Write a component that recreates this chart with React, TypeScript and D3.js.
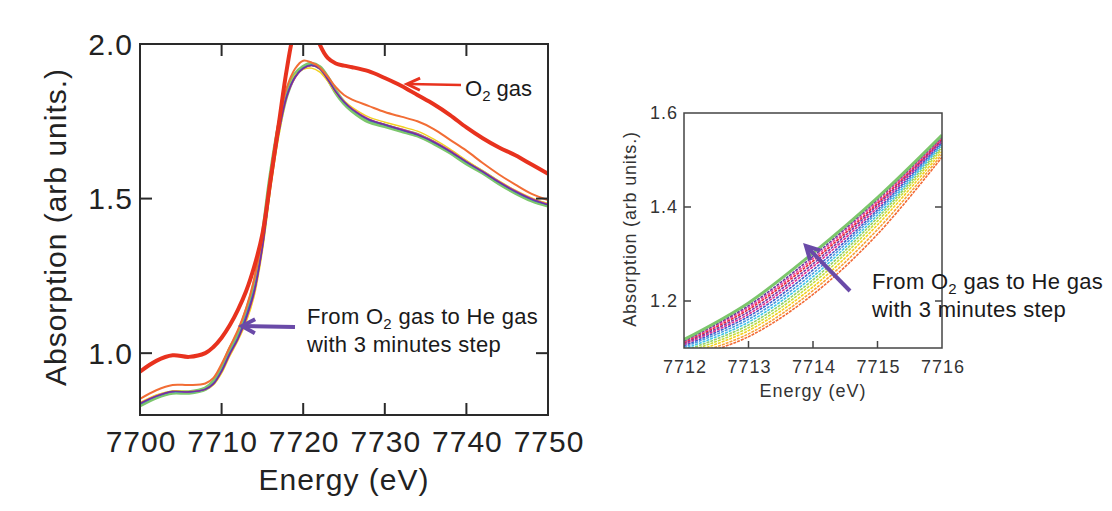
import React from "react";
import * as d3 from "d3";

// ---------- Left panel data ----------
const energyL = [7700, 7702, 7704, 7706, 7708, 7709, 7710, 7711, 7712, 7713, 7714, 7715, 7716, 7717, 7718, 7719, 7720, 7721, 7722, 7723, 7724, 7725, 7726, 7728, 7730, 7732, 7734, 7736, 7738, 7740, 7742, 7744, 7746, 7748, 7750];

const o2Red = [0.94, 0.975, 0.993, 0.988, 1.0, 1.02, 1.05, 1.09, 1.14, 1.2, 1.28, 1.385, 1.56, 1.74, 1.92, 2.05, 2.1, 2.08, 2.0, 1.955, 1.937, 1.93, 1.925, 1.912, 1.89, 1.865, 1.835, 1.805, 1.77, 1.73, 1.695, 1.665, 1.64, 1.61, 1.58];
const step1Orange = [0.852, 0.88, 0.897, 0.897, 0.902, 0.92, 0.965, 1.02, 1.075, 1.145, 1.24, 1.38, 1.58, 1.75, 1.86, 1.92, 1.946, 1.94, 1.925, 1.895, 1.86, 1.835, 1.82, 1.8, 1.78, 1.765, 1.75, 1.725, 1.69, 1.655, 1.615, 1.578, 1.545, 1.515, 1.495];
const heGreen = [0.832, 0.858, 0.873, 0.873, 0.885, 0.907, 0.95, 1.01, 1.06, 1.13, 1.22, 1.37, 1.57, 1.73, 1.84, 1.9, 1.925, 1.935, 1.925, 1.89, 1.845, 1.81, 1.785, 1.75, 1.735, 1.72, 1.705, 1.68, 1.65, 1.615, 1.585, 1.55, 1.52, 1.495, 1.478];
const stepBlue = [0.835, 0.86, 0.875, 0.874, 0.884, 0.903, 0.944, 1.0, 1.05, 1.12, 1.205, 1.35, 1.55, 1.72, 1.835, 1.895, 1.922, 1.932, 1.923, 1.888, 1.845, 1.812, 1.788, 1.755, 1.738, 1.722, 1.706, 1.682, 1.652, 1.618, 1.586, 1.552, 1.522, 1.497, 1.48];
const stepCyan = [0.836, 0.861, 0.875, 0.874, 0.883, 0.901, 0.942, 0.998, 1.048, 1.115, 1.2, 1.345, 1.545, 1.715, 1.832, 1.893, 1.921, 1.931, 1.921, 1.887, 1.846, 1.813, 1.789, 1.757, 1.74, 1.724, 1.708, 1.684, 1.654, 1.619, 1.587, 1.554, 1.524, 1.499, 1.481];
const stepPurple = [0.837, 0.861, 0.876, 0.875, 0.883, 0.9, 0.941, 0.997, 1.046, 1.112, 1.198, 1.342, 1.542, 1.712, 1.831, 1.892, 1.921, 1.931, 1.921, 1.886, 1.845, 1.813, 1.789, 1.756, 1.739, 1.723, 1.707, 1.683, 1.653, 1.619, 1.587, 1.553, 1.523, 1.498, 1.48];
const stepMagenta = [0.838, 0.862, 0.876, 0.875, 0.883, 0.9, 0.94, 0.995, 1.045, 1.11, 1.195, 1.34, 1.54, 1.71, 1.83, 1.89, 1.92, 1.93, 1.92, 1.885, 1.845, 1.814, 1.79, 1.758, 1.74, 1.725, 1.709, 1.685, 1.655, 1.62, 1.588, 1.555, 1.525, 1.5, 1.482];
const stepYellow = [0.84, 0.865, 0.878, 0.876, 0.882, 0.897, 0.935, 0.99, 1.04, 1.1, 1.185, 1.33, 1.53, 1.7, 1.83, 1.9, 1.918, 1.922, 1.91, 1.88, 1.842, 1.816, 1.795, 1.764, 1.747, 1.733, 1.718, 1.692, 1.66, 1.624, 1.59, 1.557, 1.527, 1.502, 1.484];

const xTicksL = [7700, 7710, 7720, 7730, 7740, 7750];
const yTicksL = [1.0, 1.5, 2.0];

// ---------- Right panel (zoom) data ----------
const energyR = [7712, 7713, 7714, 7715, 7716];
const zoomSeries: number[][] = [
  [1.075, 1.124, 1.214, 1.342, 1.506],
  [1.08, 1.13, 1.222, 1.352, 1.512],
  [1.085, 1.137, 1.23, 1.362, 1.518],
  [1.09, 1.143, 1.238, 1.37, 1.524],
  [1.094, 1.149, 1.245, 1.377, 1.528],
  [1.098, 1.155, 1.252, 1.383, 1.532],
  [1.102, 1.161, 1.259, 1.389, 1.535],
  [1.105, 1.167, 1.266, 1.394, 1.538],
  [1.108, 1.172, 1.273, 1.399, 1.541],
  [1.11, 1.177, 1.279, 1.404, 1.543],
  [1.112, 1.182, 1.285, 1.408, 1.545],
  [1.114, 1.186, 1.29, 1.412, 1.547],
  [1.115, 1.19, 1.295, 1.416, 1.549],
  [1.118, 1.196, 1.302, 1.42, 1.553],
];
const zoomColors = ["#f26a35", "#f7a23a", "#f2d021", "#c5dd3a", "#8fd06b", "#3fc5e6", "#4c9be0", "#3f5bcc", "#e0308f", "#7a3aa8", "#e8283a", "#f0489a", "#6a36a0", "#7cc66c"];
const xTicksR = [7712, 7713, 7714, 7715, 7716];
const yTicksR = [1.2, 1.4, 1.6];

const FONT = "'Liberation Sans', Arial, sans-serif";

function arrowHead(tipX: number, tipY: number, fromX: number, fromY: number, len: number, half: number) {
  const a = Math.atan2(tipY - fromY, tipX - fromX);
  const bx = tipX - len * Math.cos(a);
  const by = tipY - len * Math.sin(a);
  const px = -Math.sin(a), py = Math.cos(a);
  return `M${bx + px * half},${by + py * half} L${tipX},${tipY} L${bx - px * half},${by - py * half}`;
}

export default function App() {
  const xL = d3.scaleLinear().domain([7700, 7750]).range([140, 548]);
  const yL = d3.scaleLinear().domain([0.8, 2.0]).range([415, 44]);
  const lineL = d3
    .line<number>()
    .x((_, i) => xL(energyL[i]))
    .y((v) => yL(v))
    .curve(d3.curveCatmullRom.alpha(0.5));

  const xR = d3.scaleLinear().domain([7712, 7716]).range([684, 942]);
  const yR = d3.scaleLinear().domain([1.1, 1.6]).range([348, 113]);
  const lineR = d3
    .line<number>()
    .x((_, i) => xR(energyR[i]))
    .y((v) => yR(v))
    .curve(d3.curveCatmullRom.alpha(0.5));

  const clusterL = [
    { d: stepYellow, c: "#f2d021" },
    { d: stepCyan, c: "#3fc5e6" },
    { d: stepBlue, c: "#3f5bcc" },
    { d: stepMagenta, c: "#e0308f" },
    { d: stepPurple, c: "#6a36a0" },
  ];

  const tickL = 12;
  const tickR = 7;

  return (
    <svg
      width={1112}
      height={511}
      style={{ position: "absolute", left: 0, top: 0, background: "#fff" }}
      fontFamily={FONT}
    >
      <defs>
        <clipPath id="clipL">
          <rect x={140} y={44} width={408} height={371} />
        </clipPath>
        <clipPath id="clipR">
          <rect x={684} y={113} width={258} height={235} />
        </clipPath>
      </defs>
      <rect x={0} y={0} width={1112} height={511} fill="#fff" />

      {/* ===== Left panel ===== */}
      <g clipPath="url(#clipL)" fill="none" strokeLinejoin="round" strokeLinecap="round">
        <path d={lineL(heGreen) || ""} stroke="#7cc66c" strokeWidth={4.5} />
        {clusterL.map((s, i) => (
          <path key={i} d={lineL(s.d) || ""} stroke={s.c} strokeWidth={1.4} />
        ))}
        <path d={lineL(step1Orange) || ""} stroke="#f26d35" strokeWidth={2} />
        <path d={lineL(o2Red) || ""} stroke="#e8321e" strokeWidth={4} />
      </g>
      <rect x={140} y={44} width={408} height={371} fill="none" stroke="#2a2a2a" strokeWidth={2} />
      {xTicksL.slice(1, -1).map((t) => (
        <g key={t} stroke="#2a2a2a" strokeWidth={2}>
          <line x1={xL(t)} x2={xL(t)} y1={415} y2={415 - tickL} />
          <line x1={xL(t)} x2={xL(t)} y1={44} y2={44 + tickL} />
        </g>
      ))}
      {yTicksL.slice(0, -1).map((t) => (
        <g key={t} stroke="#2a2a2a" strokeWidth={2}>
          <line x1={140} x2={140 + tickL} y1={yL(t)} y2={yL(t)} />
          <line x1={548} x2={548 - tickL} y1={yL(t)} y2={yL(t)} />
        </g>
      ))}
      {xTicksL.map((t) => (
        <text key={t} x={xL(t) + 1} y={452} fontSize={30} letterSpacing={1} textAnchor="middle" fill="#222">
          {t}
        </text>
      ))}
      {yTicksL.map((t) => (
        <text key={t} x={133} y={yL(t)} dy="0.36em" fontSize={30} letterSpacing={1} textAnchor="end" fill="#222">
          {t.toFixed(1)}
        </text>
      ))}
      <text x={344} y={490} fontSize={30} letterSpacing={1} textAnchor="middle" fill="#222">
        Energy (eV)
      </text>
      <text transform="translate(66,227) rotate(-90)" fontSize={30} letterSpacing={1} textAnchor="middle" fill="#222">
        Absorption (arb units.)
      </text>

      {/* O2 gas annotation */}
      <line x1={461} y1={85} x2={409} y2={84} stroke="#e8321e" strokeWidth={2.5} />
      <path d={arrowHead(407, 84, 461, 85, 13, 6)} fill="none" stroke="#e8321e" strokeWidth={3} />
      <text x={465} y={96} fontSize={22} fill="#1a1a1a">
        O<tspan dy={5} fontSize={15}>2</tspan>
        <tspan dy={-5}> gas</tspan>
      </text>

      {/* left step annotation */}
      <line x1={295} y1={327} x2={244} y2={326} stroke="#6a4aa8" strokeWidth={4} />
      <path d={arrowHead(242, 326, 295, 327, 13, 7)} fill="none" stroke="#6a4aa8" strokeWidth={4} />
      <text x={307} y={324} fontSize={22} letterSpacing={0.3} fill="#1a1a1a">
        From O<tspan dy={5} fontSize={15}>2</tspan>
        <tspan dy={-5}> gas to He gas</tspan>
      </text>
      <text x={307} y={352} fontSize={22} letterSpacing={0.3} fill="#1a1a1a">
        with 3 minutes step
      </text>

      {/* ===== Right panel ===== */}
      <g clipPath="url(#clipR)" fill="none" strokeLinejoin="round">
        {zoomSeries.map((s, i) => (
          <path
            key={i}
            d={lineR(s) || ""}
            stroke={zoomColors[i]}
            strokeWidth={i === zoomSeries.length - 1 ? 3 : 1.6}
            strokeDasharray={i === zoomSeries.length - 1 ? undefined : "3 1"}
          />
        ))}
      </g>
      <rect x={684} y={113} width={258} height={235} fill="none" stroke="#444" strokeWidth={1.5} />
      {xTicksR.slice(1, -1).map((t) => (
        <line key={t} x1={xR(t)} x2={xR(t)} y1={348} y2={348 - tickR} stroke="#444" strokeWidth={1.5} />
      ))}
      {yTicksR.slice(0, -1).map((t) => (
        <g key={t} stroke="#444" strokeWidth={1.5}>
          <line x1={684} x2={684 + tickR} y1={yR(t)} y2={yR(t)} />
          <line x1={942} x2={942 - tickR} y1={yR(t)} y2={yR(t)} />
        </g>
      ))}
      {xTicksR.map((t) => (
        <text key={t} x={xR(t) + 1} y={373} fontSize={18} letterSpacing={1} textAnchor="middle" fill="#333">
          {t}
        </text>
      ))}
      {yTicksR.map((t) => (
        <text key={t} x={678} y={yR(t)} dy="0.36em" fontSize={18} letterSpacing={1} textAnchor="end" fill="#333">
          {t.toFixed(1)}
        </text>
      ))}
      <text x={813} y={397} fontSize={18} letterSpacing={1} textAnchor="middle" fill="#333">
        Energy (eV)
      </text>
      <text transform="translate(636,229) rotate(-90)" fontSize={18} letterSpacing={0.8} textAnchor="middle" fill="#333">
        Absorption (arb units.)
      </text>

      {/* right annotation */}
      <line x1={850} y1={291} x2={808} y2={248} stroke="#6a4aa8" strokeWidth={4} />
      <path d={arrowHead(806, 246, 850, 291, 13, 7)} fill="none" stroke="#6a4aa8" strokeWidth={4} />
      <text x={872} y={289} fontSize={22} letterSpacing={0.3} fill="#1a1a1a">
        From O<tspan dy={5} fontSize={15}>2</tspan>
        <tspan dy={-5}> gas to He gas</tspan>
      </text>
      <text x={872} y={317} fontSize={22} letterSpacing={0.3} fill="#1a1a1a">
        with 3 minutes step
      </text>
    </svg>
  );
}
